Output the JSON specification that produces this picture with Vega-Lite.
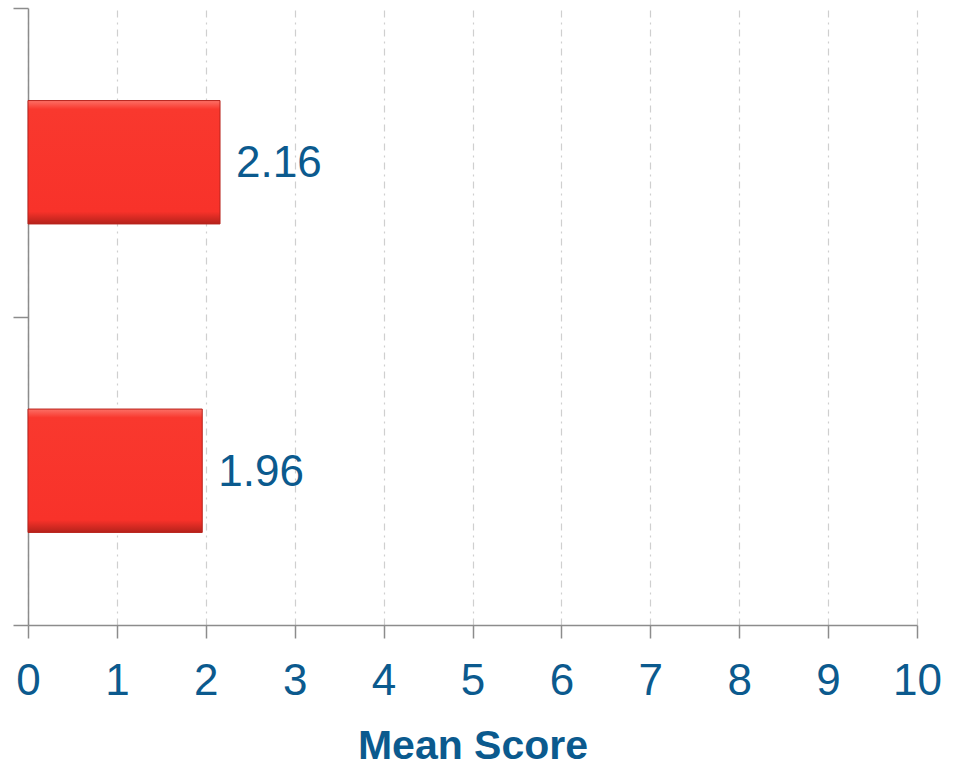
{
  "$schema": "https://vega.github.io/schema/vega-lite/v6.json",
  "width": 889,
  "height": 617,
  "autosize": {"type": "none"},
  "padding": {"left": 28, "top": 8, "right": 36, "bottom": 141},
  "background": "white",
  "config": {"view": {"stroke": null}},
  "data": {"values": [
    {"group": "A", "score": 2.16},
    {"group": "B", "score": 1.96}
  ]},
  "encoding": {
    "y": {
      "field": "group", "type": "nominal", "sort": ["A", "B"],
      "scale": {"paddingInner": 0, "paddingOuter": 0},
      "axis": {
        "title": null, "labels": false, "tickBand": "extent",
        "domainColor": "#8c8c8c", "domainWidth": 1.5,
        "tickColor": "#8c8c8c", "tickWidth": 1.5, "tickSize": 15,
        "grid": false
      }
    },
    "x": {
      "field": "score", "type": "quantitative",
      "scale": {"domain": [0, 10], "nice": false},
      "axis": {
        "title": "Mean Score", "values": [0,1,2,3,4,5,6,7,8,9,10],
        "format": "d", "labelFlush": false,
        "labelFont": "Liberation Sans, Arial, sans-serif",
        "labelFontSize": 44, "labelColor": "#0b5a8e", "labelPadding": 21,
        "titleFont": "Liberation Sans, Arial, sans-serif",
        "titleFontSize": 41, "titleFontWeight": "bold", "titleColor": "#0b5a8e",
        "titlePadding": 23,
        "domainColor": "#8c8c8c", "domainWidth": 1.5,
        "tickColor": "#8c8c8c", "tickWidth": 1.5, "tickSize": 13,
        "grid": true, "gridColor": "#cfcfcf", "gridWidth": 1.2,
        "gridDash": [7, 5, 2, 5]
      }
    }
  },
  "layer": [
    {
      "mark": {
        "type": "bar", "height": {"band": 0.4},
        "fill": {"gradient": "linear", "x1": 0, "y1": 0, "x2": 0, "y2": 1,
          "stops": [
            {"offset": 0, "color": "#fc7066"},
            {"offset": 0.07, "color": "#f9382e"},
            {"offset": 0.9, "color": "#f8322a"},
            {"offset": 1, "color": "#b5221b"}
          ]},
        "stroke": "#b8231c", "strokeWidth": 1
      }
    },
    {
      "mark": {
        "type": "text", "align": "left", "baseline": "middle", "dx": 16, "dy": 2,
        "font": "Liberation Sans, Arial, sans-serif",
        "fontSize": 44, "fill": "#0b5a8e"
      },
      "encoding": {"text": {"field": "score", "type": "quantitative", "format": ".2f"}}
    }
  ]
}
